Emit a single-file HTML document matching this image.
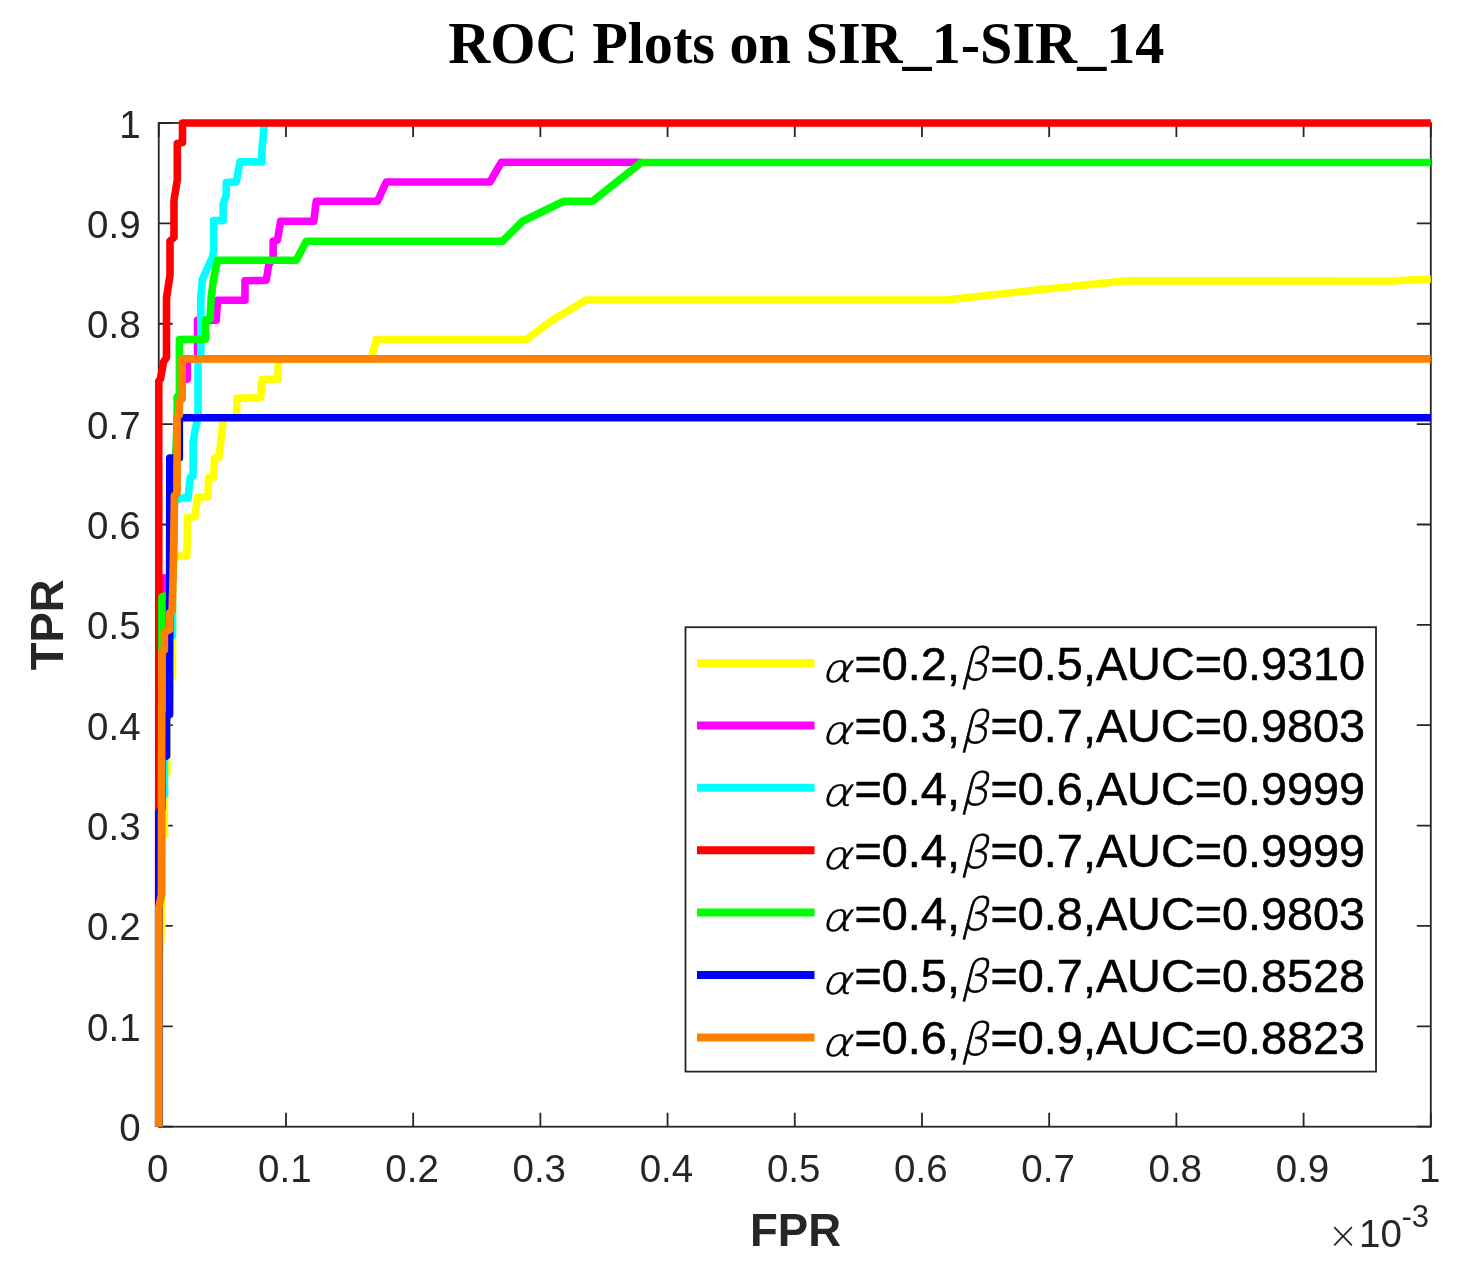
<!DOCTYPE html>
<html lang="en">
<head>
<meta charset="utf-8">
<title>ROC Plots on SIR_1-SIR_14</title>
<style>
html,body{margin:0;padding:0;background:#fff;}
body{width:1472px;height:1271px;overflow:hidden;}
svg{display:block;}
.tk{font-family:"Liberation Sans",sans-serif;font-size:38.5px;fill:#262626;}
.lb{font-family:"Liberation Sans",sans-serif;font-weight:bold;font-size:45.5px;fill:#262626;}
.tt{font-family:"Liberation Serif",serif;font-weight:bold;font-size:58.2px;fill:#000;}
.lg{font-family:"Liberation Sans",sans-serif;font-size:46.8px;fill:#000;stroke:#000;stroke-width:0.55px;}
.gk{font-family:"DejaVu Sans Light","DejaVu Serif","Liberation Serif",serif;font-style:italic;stroke-width:0.6px;}
</style>
</head>
<body>
<svg width="1472" height="1271" viewBox="0 0 1472 1271">
<rect x="0" y="0" width="1472" height="1271" fill="#ffffff"/>
<text class="tt" x="448.3" y="62.6">ROC Plots on SIR_1-SIR_14</text>
<g stroke="#262626" stroke-width="1.8" fill="none" stroke-linecap="butt">
<rect x="158.75" y="123.00" width="1272.05" height="1003.70"/>
<path d="M158.75 1126.70V1112.70M158.75 123.00V137.00"/>
<path d="M158.75 1126.70H172.75M1430.80 1126.70H1416.80"/>
<path d="M285.95 1126.70V1112.70M285.95 123.00V137.00"/>
<path d="M158.75 1026.33H172.75M1430.80 1026.33H1416.80"/>
<path d="M413.16 1126.70V1112.70M413.16 123.00V137.00"/>
<path d="M158.75 925.96H172.75M1430.80 925.96H1416.80"/>
<path d="M540.37 1126.70V1112.70M540.37 123.00V137.00"/>
<path d="M158.75 825.59H172.75M1430.80 825.59H1416.80"/>
<path d="M667.57 1126.70V1112.70M667.57 123.00V137.00"/>
<path d="M158.75 725.22H172.75M1430.80 725.22H1416.80"/>
<path d="M794.77 1126.70V1112.70M794.77 123.00V137.00"/>
<path d="M158.75 624.85H172.75M1430.80 624.85H1416.80"/>
<path d="M921.98 1126.70V1112.70M921.98 123.00V137.00"/>
<path d="M158.75 524.48H172.75M1430.80 524.48H1416.80"/>
<path d="M1049.18 1126.70V1112.70M1049.18 123.00V137.00"/>
<path d="M158.75 424.11H172.75M1430.80 424.11H1416.80"/>
<path d="M1176.39 1126.70V1112.70M1176.39 123.00V137.00"/>
<path d="M158.75 323.74H172.75M1430.80 323.74H1416.80"/>
<path d="M1303.60 1126.70V1112.70M1303.60 123.00V137.00"/>
<path d="M158.75 223.37H172.75M1430.80 223.37H1416.80"/>
<path d="M1430.80 1126.70V1112.70M1430.80 123.00V137.00"/>
<path d="M158.75 123.00H172.75M1430.80 123.00H1416.80"/>
</g>
<g class="tk">
<text x="157.65" y="1182.3" text-anchor="middle">0</text>
<text x="284.85" y="1182.3" text-anchor="middle">0.1</text>
<text x="412.06" y="1182.3" text-anchor="middle">0.2</text>
<text x="539.26" y="1182.3" text-anchor="middle">0.3</text>
<text x="666.47" y="1182.3" text-anchor="middle">0.4</text>
<text x="793.67" y="1182.3" text-anchor="middle">0.5</text>
<text x="920.88" y="1182.3" text-anchor="middle">0.6</text>
<text x="1048.09" y="1182.3" text-anchor="middle">0.7</text>
<text x="1175.29" y="1182.3" text-anchor="middle">0.8</text>
<text x="1302.50" y="1182.3" text-anchor="middle">0.9</text>
<text x="1429.70" y="1182.3" text-anchor="middle">1</text>
<text x="140.6" y="1141.20" text-anchor="end">0</text>
<text x="140.6" y="1040.83" text-anchor="end">0.1</text>
<text x="140.6" y="940.46" text-anchor="end">0.2</text>
<text x="140.6" y="840.09" text-anchor="end">0.3</text>
<text x="140.6" y="739.72" text-anchor="end">0.4</text>
<text x="140.6" y="639.35" text-anchor="end">0.5</text>
<text x="140.6" y="538.98" text-anchor="end">0.6</text>
<text x="140.6" y="438.61" text-anchor="end">0.7</text>
<text x="140.6" y="338.24" text-anchor="end">0.8</text>
<text x="140.6" y="237.87" text-anchor="end">0.9</text>
<text x="140.6" y="137.50" text-anchor="end">1</text>
</g>
<text class="lb" x="795.5" y="1245.5" text-anchor="middle">FPR</text>
<text class="lb" transform="translate(63 624.8) rotate(-90)" text-anchor="middle">TPR</text>
<text x="1327.7" y="1247.6" style="font-family:'DejaVu Sans Light','DejaVu Sans','Liberation Sans',sans-serif;font-size:36.5px;fill:#262626">×</text>
<text class="tk" x="1359" y="1246.6">10<tspan font-size="31" x="1401.5" y="1227">-3</tspan></text>
<g fill="none" stroke-width="7.6" stroke-linejoin="round" stroke-linecap="butt">
<path stroke="#ffff00" d="M158.75 1126.70 L159.40 960.00 L161.90 925.00 L161.90 837.00 L164.40 835.00 L164.40 775.00 L166.90 773.50 L166.90 716.00 L168.00 679.00 L172.50 677.00 L172.50 560.00 L178.75 556.00 L186.90 556.00 L187.50 517.40 L195.00 516.75 L197.50 497.40 L208.10 496.75 L208.50 478.00 L213.75 477.40 L214.40 458.00 L218.75 458.00 L223.00 421.75 L223.00 418.00 L236.50 418.00 L236.90 398.40 L260.60 397.75 L261.90 379.60 L278.10 379.00 L278.10 358.75 L371.25 358.75 L376.25 339.50 L526.25 339.50 L552.50 320.00 L586.25 300.00 L945.50 300.00 L1036.00 290.00 L1127.25 280.80 L1392.00 281.00 L1430.80 279.00"/>
<path stroke="#ff00ff" d="M158.75 1126.70 L158.75 705.00 L163.00 700.00 L163.00 578.00 L173.00 577.00 L174.50 500.00 L177.50 420.00 L182.00 380.00 L187.30 379.00 L187.30 359.00 L197.60 359.00 L197.60 320.25 L216.25 320.25 L217.50 300.25 L245.00 300.25 L245.00 280.90 L266.25 280.25 L268.75 265.00 L273.10 258.00 L273.10 241.25 L277.50 240.00 L280.60 221.25 L313.75 221.25 L316.25 201.25 L377.50 201.25 L386.25 182.00 L490.00 182.00 L501.25 162.30 L641.00 162.30"/>
<path stroke="#00ffff" d="M158.75 1126.70 L158.75 900.00 L161.00 797.00 L164.40 795.00 L164.40 757.00 L166.00 716.00 L168.00 638.00 L172.50 636.00 L172.50 502.00 L181.25 498.00 L188.10 498.00 L190.00 478.00 L193.10 475.50 L193.10 443.00 L195.00 430.50 L198.00 418.00 L198.00 362.00 L200.80 356.00 L200.80 296.50 L202.50 279.00 L212.50 257.00 L213.75 250.00 L213.75 220.60 L223.10 220.60 L223.10 203.75 L226.25 195.00 L226.25 182.50 L236.25 181.90 L240.00 161.90 L261.90 161.90 L261.90 150.00 L264.40 123.00"/>
<path stroke="#ff0000" d="M158.75 1126.70 L158.75 381.00 L160.50 379.00 L163.50 362.00 L166.50 357.50 L166.50 297.75 L170.00 275.00 L170.00 241.00 L174.00 237.50 L174.00 200.00 L177.30 180.00 L177.30 143.50 L182.50 142.50 L182.50 123.00 L1430.80 123.00"/>
<path stroke="#00ff00" d="M158.75 1126.70 L158.75 907.50 L161.40 895.00 L161.90 652.00 L161.90 597.00 L172.00 594.00 L174.40 500.00 L177.10 418.00 L177.10 397.00 L179.40 394.00 L179.40 339.60 L205.60 339.00 L205.60 320.25 L210.00 319.00 L211.25 296.50 L213.75 277.75 L217.50 260.25 L296.25 260.25 L306.25 241.25 L502.50 241.25 L522.50 221.25 L563.75 201.25 L592.50 201.25 L641.25 162.50 L1430.80 162.50"/>
<path stroke="#0000ff" d="M158.75 1126.70 L158.75 812.25 L161.90 808.00 L161.90 758.00 L166.60 756.00 L166.60 716.00 L169.60 714.50 L169.75 458.00 L179.30 458.00 L179.30 417.80 L1430.80 417.80"/>
<path stroke="#ff8000" d="M158.75 1126.70 L158.75 907.50 L161.40 895.00 L161.90 652.00 L164.40 650.00 L164.40 632.00 L169.60 630.00 L169.60 613.00 L172.10 611.00 L173.10 577.00 L174.40 495.50 L177.10 493.00 L177.10 417.00 L179.40 415.00 L179.40 401.00 L182.20 399.00 L182.20 358.90 L1430.80 358.90"/>
</g>
<rect x="685.50" y="627.20" width="690.50" height="444.40" fill="#fff" stroke="#262626" stroke-width="1.8"/>
<path d="M697 663.00H814.5" stroke="#ffff00" stroke-width="8" fill="none"/>
<text class="lg gk" transform="translate(820.7 681.50) scale(1.18 1)" style="font-size:39px">α</text><text class="lg" x="854.5" y="679.90">=0.2,</text><text class="lg gk" x="960.1" y="680.40" style="font-size:45px">β</text><text class="lg" x="990.5" y="679.90">=0.5,AUC=0.9310</text>
<path d="M697 725.40H814.5" stroke="#ff00ff" stroke-width="8" fill="none"/>
<text class="lg gk" transform="translate(820.7 743.90) scale(1.18 1)" style="font-size:39px">α</text><text class="lg" x="854.5" y="742.30">=0.3,</text><text class="lg gk" x="960.1" y="742.80" style="font-size:45px">β</text><text class="lg" x="990.5" y="742.30">=0.7,AUC=0.9803</text>
<path d="M697 787.80H814.5" stroke="#00ffff" stroke-width="8" fill="none"/>
<text class="lg gk" transform="translate(820.7 806.30) scale(1.18 1)" style="font-size:39px">α</text><text class="lg" x="854.5" y="804.70">=0.4,</text><text class="lg gk" x="960.1" y="805.20" style="font-size:45px">β</text><text class="lg" x="990.5" y="804.70">=0.6,AUC=0.9999</text>
<path d="M697 850.20H814.5" stroke="#ff0000" stroke-width="8" fill="none"/>
<text class="lg gk" transform="translate(820.7 868.70) scale(1.18 1)" style="font-size:39px">α</text><text class="lg" x="854.5" y="867.10">=0.4,</text><text class="lg gk" x="960.1" y="867.60" style="font-size:45px">β</text><text class="lg" x="990.5" y="867.10">=0.7,AUC=0.9999</text>
<path d="M697 912.60H814.5" stroke="#00ff00" stroke-width="8" fill="none"/>
<text class="lg gk" transform="translate(820.7 931.10) scale(1.18 1)" style="font-size:39px">α</text><text class="lg" x="854.5" y="929.50">=0.4,</text><text class="lg gk" x="960.1" y="930.00" style="font-size:45px">β</text><text class="lg" x="990.5" y="929.50">=0.8,AUC=0.9803</text>
<path d="M697 975.00H814.5" stroke="#0000ff" stroke-width="8" fill="none"/>
<text class="lg gk" transform="translate(820.7 993.50) scale(1.18 1)" style="font-size:39px">α</text><text class="lg" x="854.5" y="991.90">=0.5,</text><text class="lg gk" x="960.1" y="992.40" style="font-size:45px">β</text><text class="lg" x="990.5" y="991.90">=0.7,AUC=0.8528</text>
<path d="M697 1037.40H814.5" stroke="#ff8000" stroke-width="8" fill="none"/>
<text class="lg gk" transform="translate(820.7 1055.90) scale(1.18 1)" style="font-size:39px">α</text><text class="lg" x="854.5" y="1054.30">=0.6,</text><text class="lg gk" x="960.1" y="1054.80" style="font-size:45px">β</text><text class="lg" x="990.5" y="1054.30">=0.9,AUC=0.8823</text>
</svg>
</body>
</html>
